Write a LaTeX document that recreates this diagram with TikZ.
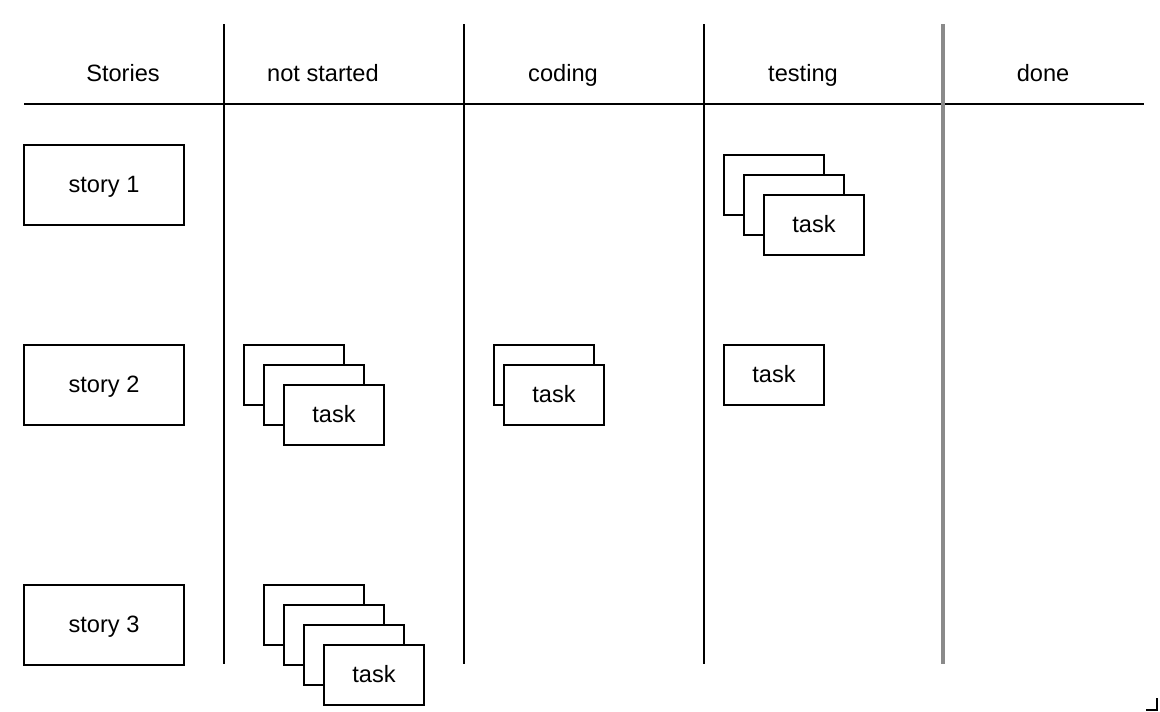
\documentclass[tikz,border=0pt]{standalone}
\usepackage{fontspec}
\setmainfont{Liberation Sans}
\definecolor{sepgray}{RGB}{138,138,138}
\tikzset{
  rule/.style={line width=2pt, black},
  sep/.style={line width=4pt, sepgray},
  header/.style={font=\fontsize{23.6}{26}\selectfont, inner sep=0pt, text height=17pt, text depth=1pt},
  storybox/.style={draw, line width=2pt, fill=white, minimum width=160pt, minimum height=80pt, inner sep=0pt, outer sep=0pt, font=\fontsize{23.6}{26}\selectfont, text height=17pt, text depth=2pt},
  taskbox/.style={draw, line width=2pt, fill=white, minimum width=100pt, minimum height=60pt, inner sep=0pt, outer sep=0pt, font=\fontsize{23.6}{26}\selectfont, text height=17pt, text depth=3pt},
}
\begin{document}
\begin{tikzpicture}[x=1pt,y=-1pt]
\useasboundingbox (0,0) rectangle (1160,712);
% grid
\coordinate (hl) at (24,104);
\coordinate (hr) at (1144,104);
\draw[rule] (hl) -- (hr);
\coordinate (v1t) at (224,24); \coordinate (v1b) at (224,664);
\coordinate (v2t) at (464,24); \coordinate (v2b) at (464,664);
\coordinate (v3t) at (704,24); \coordinate (v3b) at (704,664);
\coordinate (v4t) at (943,24); \coordinate (v4b) at (943,664);
\draw[rule] (v1t) -- (v1b);
\draw[rule] (v2t) -- (v2b);
\draw[rule] (v3t) -- (v3b);
\draw[sep] (v4t) -- (v4b);
% headers
\node[header] (hStories) at (123,73) {Stories};
\node[header] (hNot) at (323,73) {not started};
\node[header] (hCoding) at (563,73) {coding};
\node[header] (hTesting) at (803,73) {testing};
\node[header] (hDone) at (1043,73) {done};
% stories
\node[storybox] (s1) at (104,185) {story 1};
\node[storybox] (s2) at (104,385) {story 2};
\node[storybox] (s3) at (104,625) {story 3};
% testing, story 1
\node[taskbox] (t1a) at (774,185) {};
\node[taskbox] (t1b) at (794,205) {};
\node[taskbox] (t1c) at (814,225) {task};
% not started, story 2
\node[taskbox] (n2a) at (294,375) {};
\node[taskbox] (n2b) at (314,395) {};
\node[taskbox] (n2c) at (334,415) {task};
% coding, story 2
\node[taskbox] (c2a) at (544,375) {};
\node[taskbox] (c2b) at (554,395) {task};
% testing, story 2
\node[taskbox] (t2a) at (774,375) {task};
% not started, story 3
\node[taskbox] (n3a) at (314,615) {};
\node[taskbox] (n3b) at (334,635) {};
\node[taskbox] (n3c) at (354,655) {};
\node[taskbox] (n3d) at (374,675) {task};
% corner mark
\coordinate (ca) at (1157,698);
\coordinate (cb) at (1157,710);
\coordinate (cc) at (1146,710);
\draw[line width=2pt] (ca) -- (cb) -- (cc);
\end{tikzpicture}
\end{document}
